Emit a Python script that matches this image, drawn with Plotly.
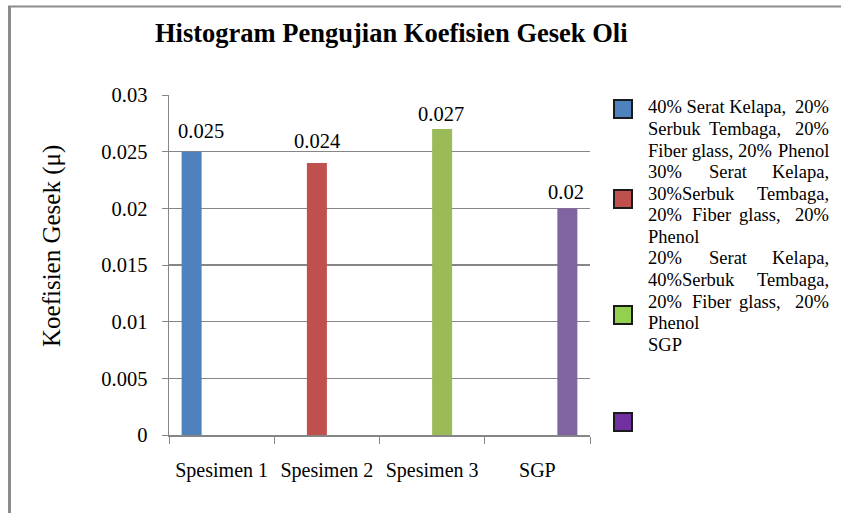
import plotly.graph_objects as go

# ---- data ----
categories = ["Spesimen 1", "Spesimen 2", "Spesimen 3", "SGP"]
series_names = [
    "40% Serat Kelapa, 20% Serbuk Tembaga, 20% Fiber glass, 20% Phenol",
    "30% Serat Kelapa, 30%Serbuk Tembaga, 20% Fiber glass, 20% Phenol",
    "20% Serat Kelapa, 40%Serbuk Tembaga, 20% Fiber glass, 20% Phenol",
    "SGP",
]
values = [0.025, 0.024, 0.027, 0.02]
label_texts = ["0.025", "0.024", "0.027", "0.02"]
y_ticks = [0, 0.005, 0.01, 0.015, 0.02, 0.025, 0.03]
y_tick_labels = ["0", "0.005", "0.01", "0.015", "0.02", "0.025", "0.03"]

# ---- style ----
bar_colors = ["#4F81BD", "#C0504D", "#9BBB59", "#8064A2"]
legend_colors = ["#4F81BD", "#C0504D", "#92D050", "#7030A0"]
FONT = "Liberation Serif"
W, H = 841, 513
L, R, T, B = 169, 590, 95, 435  # plot area in pixels
bargap = 0.24
label_lift = [21, 22, 15, 16]
label_dx = [9, 0, -1, -1]

def px(x):
    return (x - L) / (R - L)

def py(y):
    return (B - y) / (B - T)

fig = go.Figure()
n = len(categories)
for i in range(n):
    yv = [values[i] if j == i else None for j in range(n)]
    fig.add_trace(go.Bar(
        x=categories, y=yv, name=series_names[i],
        marker=dict(color=bar_colors[i], line=dict(width=0)),
        showlegend=False, hoverinfo="skip",
    ))

annotations = []
cat_w = (R - L) / n
bar_w = cat_w * (1 - bargap) / n
for i in range(n):
    annotations.append(dict(
        x=categories[i], y=values[i], xref="x", yref="y",
        text=label_texts[i], showarrow=False,
        xshift=(i - (n - 1) / 2) * bar_w + label_dx[i], yshift=label_lift[i],
        yanchor="middle", xanchor="center",
        font=dict(family=FONT, size=20.5, color="black"),
    ))

# title
annotations.append(dict(
    x=px(391), y=py(33), xref="paper", yref="paper",
    text="<b>Histogram Pengujian Koefisien Gesek Oli</b>", showarrow=False,
    xanchor="center", yanchor="middle",
    font=dict(family=FONT, size=26.5, color="black"),
))
# y axis title
annotations.append(dict(
    x=px(52), y=py(246), xref="paper", yref="paper",
    text="Koefisien Gesek (\u03bc)", showarrow=False, textangle=-90,
    xanchor="center", yanchor="middle",
    font=dict(family=FONT, size=25, color="black"),
))

# legend text (justified lines emulated word by word)
legend_lines = [
    (107, [("40% Serat Kelapa,", 647), ("20%", None)]),
    (129, [("Serbuk", 647), ("Tembaga,", 708), ("20%", None)]),
    (151, [("Fiber glass, 20%", 647), ("Phenol", None)]),
    (172, [("30%", 647), ("Serat", 708), ("Kelapa,", None)]),
    (194, [("30%Serbuk", 647), ("Tembaga,", None)]),
    (215, [("20%", 647), ("Fiber", 691), ("glass,", 738), ("20%", None)]),
    (237, [("Phenol", 647)]),
    (258, [("20%", 647), ("Serat", 708), ("Kelapa,", None)]),
    (280, [("40%Serbuk", 647), ("Tembaga,", None)]),
    (302, [("20%", 647), ("Fiber", 691), ("glass,", 738), ("20%", None)]),
    (323, [("Phenol", 647)]),
    (345, [("SGP", 647)]),
]
for yline, words in legend_lines:
    for w, xw in words:
        if xw is None:
            xa, anchor = 830, "right"
        else:
            xa, anchor = xw, "left"
        annotations.append(dict(
            x=px(xa), y=py(yline), xref="paper", yref="paper", text=w,
            showarrow=False, xanchor=anchor, yanchor="middle", borderpad=0,
            font=dict(family=FONT, size=18.5, color="black"),
        ))

shapes = []
legend_marker_y = [109, 199, 315, 422]
for i in range(n):
    yc = legend_marker_y[i]
    shapes.append(dict(
        type="rect", xref="paper", yref="paper",
        x0=px(614), x1=px(632), y0=py(yc + 9), y1=py(yc - 9),
        fillcolor=legend_colors[i], line=dict(color="#1a1a1a", width=2),
    ))
# outer frame (left and top only visible)
shapes.append(dict(type="line", xref="paper", yref="paper",
                   x0=px(9.5), x1=px(9.5), y0=py(6), y1=py(520),
                   line=dict(color="#8c8c8c", width=3)))
shapes.append(dict(type="line", xref="paper", yref="paper",
                   x0=px(8), x1=px(850), y0=py(6.5), y1=py(6.5),
                   line=dict(color="#8c8c8c", width=2)))

fig.update_layout(
    width=W, height=H, autosize=False,
    margin=dict(l=L, r=W - R, t=T, b=H - B, pad=0, autoexpand=False),
    paper_bgcolor="white", plot_bgcolor="white",
    barmode="group", bargap=bargap, bargroupgap=0,
    showlegend=False, hovermode=False,
    font=dict(family=FONT, size=20, color="black"),
    annotations=annotations, shapes=shapes,
)
fig.update_xaxes(
    type="category", tickson="boundaries", ticks="outside", ticklen=7,
    tickcolor="#868686", showline=True, linecolor="#868686", linewidth=1.5,
    showgrid=False, tickfont=dict(family=FONT, size=20, color="black"),
    tickangle=0, automargin=False, ticklabelstandoff=16,
)
fig.update_yaxes(
    range=[0, 0.03], tickvals=y_ticks, ticktext=y_tick_labels,
    ticks="outside", ticklen=6, tickcolor="#868686",
    showline=True, linecolor="#868686", linewidth=1.5,
    showgrid=True, gridcolor="#868686", gridwidth=1.5, zeroline=False,
    tickfont=dict(family=FONT, size=20.5, color="black"),
    automargin=False, ticklabelstandoff=10,
)

fig.write_html(
    "out.html",
    config={"displayModeBar": False, "staticPlot": True},
    post_script="document.body.style.margin='0';document.body.style.overflow='hidden';",
)
